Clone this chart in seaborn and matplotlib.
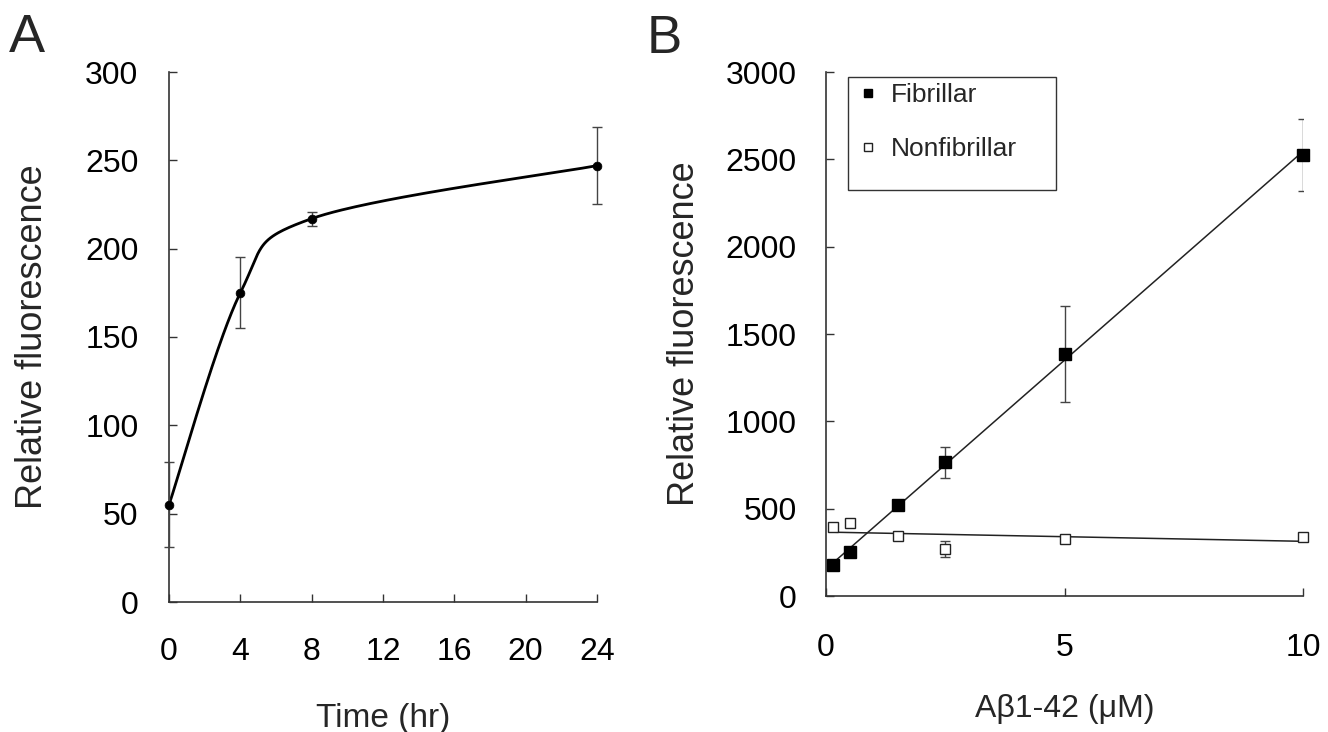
import numpy as np
import pandas as pd
import seaborn as sns
import matplotlib
matplotlib.use("Agg")
import matplotlib.pyplot as plt
from matplotlib.lines import Line2D
from matplotlib.patches import Rectangle

# ---- data ----
time_hr = [0, 4, 8, 24]
fluor_a = [55, 175, 217, 247]
err_a = [24, 20, 4, 22]

conc = [0.15, 0.5, 1.5, 2.5, 5, 10]
fibrillar = [177, 252, 521, 765, 1385, 2525]
fib_err = [0, 0, 0, 90, 275, 205]
nonfibrillar = [395, 418, 344, 270, 325, 340]
nonfib_err = [0, 0, 0, 45, 0, 0]

xticks_a = [0, 4, 8, 12, 16, 20, 24]
yticks_a = [0, 50, 100, 150, 200, 250, 300]
xticks_b = [0, 5, 10]
yticks_b = [0, 500, 1000, 1500, 2000, 2500, 3000]

sns.set_style("ticks")
plt.rcParams['font.family'] = ['Liberation Sans', 'DejaVu Sans']

W, H = 1328, 732
fig = plt.figure(figsize=(W / 100, H / 100), dpi=100)


def px_axes(l, r, t, b):
    return fig.add_axes([l / W, 1 - b / H, (r - l) / W, (b - t) / H])

axA = px_axes(169, 597, 72, 602)
axB = px_axes(826, 1303, 72, 596)

line_col = '#222222'


def smooth_curve(xs, ys, sx, sy, n=60):
    # Catmull-Rom smoothing (spreadsheet "smoothed line") in screen-like units
    P = np.column_stack([np.asarray(xs, float) / sx, np.asarray(ys, float) / sy])
    P = np.vstack([P[0], P, P[-1]])
    out = []
    t = np.linspace(0, 1, n)[:, None]
    for i in range(1, len(P) - 2):
        p0, p1, p2, p3 = P[i - 1], P[i], P[i + 1], P[i + 2]
        seg = 0.5 * ((2 * p1) + (-p0 + p2) * t + (2 * p0 - 5 * p1 + 4 * p2 - p3) * t ** 2
                     + (-p0 + 3 * p1 - 3 * p2 + p3) * t ** 3)
        out.append(seg)
    out = np.vstack(out)
    return out[:, 0] * sx, out[:, 1] * sy

# ---- panel A ----
cx, cy = smooth_curve(time_hr, fluor_a, 24 / 428.0, 300 / 530.0)
curve = pd.DataFrame({'x': cx, 'y': cy})
sns.lineplot(data=curve, x='x', y='y', ax=axA, color='black', lw=2.0, sort=False, estimator=None)
axA.errorbar(time_hr, fluor_a, yerr=err_a, fmt='none', ecolor='#444444', elinewidth=1.0,
             capsize=3.5, capthick=1.0, clip_on=False, zorder=3)
dfA = pd.DataFrame({'t': time_hr, 'f': fluor_a})
sns.scatterplot(data=dfA, x='t', y='f', ax=axA, color='black', s=40, edgecolor='black',
                zorder=4, clip_on=False)
axA.set_xlim(0, 24)
axA.set_ylim(0, 300)
axA.set_xticks(xticks_a)
axA.set_yticks(yticks_a)
axA.set_xlabel('Time (hr)', fontsize=24, labelpad=26)
axA.set_ylabel('Relative fluorescence', fontsize=26, labelpad=25)

# ---- panel B ----
dfB = pd.DataFrame({'c': conc, 'fib': fibrillar, 'non': nonfibrillar})
sns.regplot(data=dfB, x='c', y='fib', ax=axB, ci=None, scatter=False, truncate=True,
            line_kws={'color': line_col, 'lw': 1.1})
sns.regplot(data=dfB, x='c', y='non', ax=axB, ci=None, scatter=False, truncate=True,
            line_kws={'color': line_col, 'lw': 1.1})
axB.errorbar(conc, fibrillar, yerr=fib_err, fmt='none', ecolor='#444444', elinewidth=1.0,
             capsize=3.5, capthick=1.0, zorder=3)
axB.errorbar(conc, nonfibrillar, yerr=nonfib_err, fmt='none', ecolor='#444444', elinewidth=1.0,
             capsize=3.5, capthick=1.0, zorder=3)
axB.plot(conc, fibrillar, 's', ms=8.5, mfc='black', mec='black', ls='none', zorder=4, clip_on=False)
axB.plot(conc, nonfibrillar, 's', ms=7, mfc='white', mec='#222222', mew=1.0, ls='none',
         zorder=4, clip_on=False)
axB.set_xlim(0, 10)
axB.set_ylim(0, 3000)
axB.set_xticks(xticks_b)
axB.set_yticks(yticks_b)
axB.set_xlabel('A\u03b21-42 (\u03bcM)', fontsize=23, labelpad=22)
axB.set_ylabel('Relative fluorescence', fontsize=26, labelpad=17)

handles = [Line2D([], [], marker='s', ls='none', ms=6, mfc='black', mec='black'),
           Line2D([], [], marker='s', ls='none', ms=6, mfc='white', mec='#222222')]
leg = fig.legend(handles, ['Fibrillar', 'Nonfibrillar'], loc='upper left',
                 bbox_to_anchor=(857 / W, 1 - 83 / H), fontsize=19, frameon=False,
                 labelspacing=1.15, handletextpad=0.5, borderpad=0,
                 handlelength=0.8, borderaxespad=0)
fig.add_artist(Rectangle((848 / W, 1 - 190 / H), 208 / W, 113 / H, transform=fig.transFigure,
                         fill=False, edgecolor='#333333', lw=1.0))

for ax in (axA, axB):
    sns.despine(ax=ax)
    for s in ('left', 'bottom'):
        ax.spines[s].set_linewidth(1.2)
        ax.spines[s].set_color('#333333')
    ax.tick_params(direction='in', length=6, width=1.0, colors='#333333',
                   labelcolor='black', labelsize=23)
axA.tick_params(axis='x', pad=25)
axA.tick_params(axis='y', pad=22)
axB.tick_params(axis='x', pad=27)
axB.tick_params(axis='y', pad=21)

fig.text(9 / W, 1 - 13 / H, 'A', fontsize=39, va='top', ha='left')
fig.text(647 / W, 1 - 14 / H, 'B', fontsize=38, va='top', ha='left')

fig.savefig('out.png', dpi=100, facecolor='white')
